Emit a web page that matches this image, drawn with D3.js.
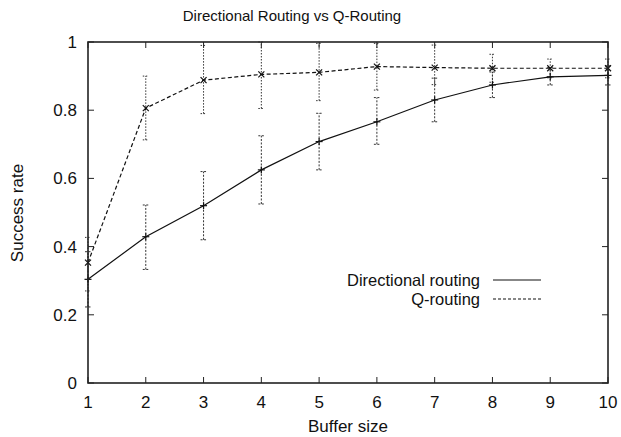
<!DOCTYPE html>
<html><head><meta charset="utf-8">
<script src="https://cdn.jsdelivr.net/npm/d3@7"></script>
<style>body{margin:0;background:#fff}svg{display:block}text{font-family:"Liberation Sans",Arial,sans-serif;fill:#111}</style>
</head><body>
<script>
const bufferSizes = [1,2,3,4,5,6,7,8,9,10];
const directional = [0.304,0.429,0.52,0.625,0.708,0.766,0.83,0.874,0.898,0.902];
const directionalLo = [0.223,0.333,0.42,0.525,0.625,0.70,0.766,0.837,0.874,0.874];
const directionalHi = [0.385,0.522,0.62,0.725,0.791,0.837,0.894,0.912,0.925,0.93];
const qrouting = [0.353,0.806,0.888,0.905,0.911,0.928,0.925,0.923,0.923,0.923];
const qroutingLo = [0.27,0.713,0.79,0.805,0.828,0.859,0.875,0.882,0.895,0.895];
const qroutingHi = [0.427,0.90,0.99,1.0,0.996,0.996,0.991,0.964,0.95,0.95];
const yTicks = [0,0.2,0.4,0.6,0.8,1];
const xTicks = [1,2,3,4,5,6,7,8,9,10];

const W=621,H=437;
const svg=d3.select("body").append("svg").attr("width",W).attr("height",H);
const x=d3.scaleLinear().domain([1,10]).range([88,608]);
const y=d3.scaleLinear().domain([0,1]).range([383,42]);

const tl=6;
const g=svg.append("g").attr("stroke","#222").attr("stroke-width",1);
yTicks.forEach(t=>{
  g.append("line").attr("x1",x(1)).attr("x2",x(1)+tl).attr("y1",y(t)).attr("y2",y(t));
  g.append("line").attr("x1",x(10)).attr("x2",x(10)-tl).attr("y1",y(t)).attr("y2",y(t));
});
xTicks.forEach(t=>{
  g.append("line").attr("x1",x(t)).attr("x2",x(t)).attr("y1",y(0)).attr("y2",y(0)-tl);
  g.append("line").attr("x1",x(t)).attr("x2",x(t)).attr("y1",y(1)).attr("y2",y(1)+tl);
});
svg.selectAll(".yl").data(yTicks).enter().append("text")
  .attr("x",x(1)-11).attr("y",d=>y(d)+6).attr("text-anchor","end").attr("font-size",17)
  .text(d=>d3.format("")(d));
svg.selectAll(".xl").data(xTicks).enter().append("text")
  .attr("x",d=>x(d)).attr("y",408).attr("text-anchor","middle").attr("font-size",17).text(d=>d);

function errbars(vals,lo,hi,dash){
  const eg=svg.append("g").attr("stroke","#333").attr("stroke-width",1).attr("stroke-dasharray",dash).attr("fill","none");
  bufferSizes.forEach((b,i)=>{
    eg.append("line").attr("x1",x(b)).attr("x2",x(b)).attr("y1",y(lo[i])).attr("y2",y(hi[i]));
    [lo[i],hi[i]].forEach(v=>eg.append("line").attr("x1",x(b)-3).attr("x2",x(b)+3).attr("y1",y(v)).attr("y2",y(v)));
  });
}
errbars(directional,directionalLo,directionalHi,"2,1.5");
errbars(qrouting,qroutingLo,qroutingHi,"1.5,1.5");

const line=d3.line().x((d,i)=>x(bufferSizes[i])).y(d=>y(d));
svg.append("path").datum(directional).attr("d",line).attr("fill","none").attr("stroke","#111").attr("stroke-width",1.2);
svg.append("path").datum(qrouting).attr("d",line).attr("fill","none").attr("stroke","#111").attr("stroke-width",1.2).attr("stroke-dasharray","4,2.5");

const mg=svg.append("g").attr("stroke","#111").attr("stroke-width",1.2);
bufferSizes.forEach((b,i)=>{
  const px=x(b),py=y(directional[i]);
  mg.append("line").attr("x1",px-3.5).attr("x2",px+3.5).attr("y1",py).attr("y2",py);
  mg.append("line").attr("x1",px).attr("x2",px).attr("y1",py-3.5).attr("y2",py+3.5);
  const qx=x(b),qy=y(qrouting[i]);
  mg.append("line").attr("x1",qx-3).attr("x2",qx+3).attr("y1",qy-3).attr("y2",qy+3);
  mg.append("line").attr("x1",qx-3).attr("x2",qx+3).attr("y1",qy+3).attr("y2",qy-3);
});

svg.append("rect").attr("x",x(1)).attr("y",y(1)).attr("width",x(10)-x(1)).attr("height",y(0)-y(1))
  .attr("fill","none").attr("stroke","#222").attr("stroke-width",1.6);

const legend=[{name:"Directional routing",dash:null},{name:"Q-routing",dash:"3,2"}];
legend.forEach((l,i)=>{
  const ly=280+i*19;
  svg.append("text").attr("x",480).attr("y",ly+5.5).attr("text-anchor","end").attr("font-size",16.5).text(l.name);
  svg.append("line").attr("x1",493).attr("x2",541).attr("y1",ly).attr("y2",ly).attr("stroke","#111").attr("stroke-width",1.1).attr("stroke-dasharray",l.dash);
});

svg.append("text").attr("x",292).attr("y",21).attr("text-anchor","middle").attr("font-size",15).text("Directional Routing vs Q-Routing");
svg.append("text").attr("x",348).attr("y",432).attr("text-anchor","middle").attr("font-size",17).text("Buffer size");
svg.append("text").attr("transform","translate(23,213) rotate(-90)").attr("text-anchor","middle").attr("font-size",17).text("Success rate");
</script>
</body></html>
